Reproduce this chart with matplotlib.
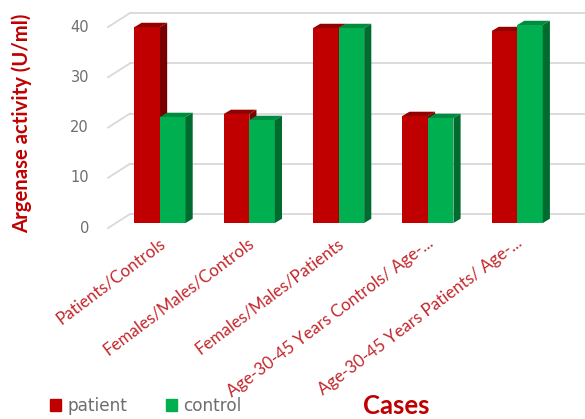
import matplotlib
matplotlib.use('Agg')
import matplotlib.pyplot as plt
from matplotlib.patches import Polygon, Patch
import numpy as np

# chart data
categories = ['Patients/Controls', 'Females/Males/Controls', 'Females/Males/Patients',
              'Age-30-45 Years Controls/ Age-...', 'Age-30-45 Years Patients/ Age-...']
patient = [39.0, 21.7, 38.8, 21.3, 38.2]
control = [21.1, 20.5, 38.8, 20.9, 39.4]
yticks = [0, 10, 20, 30, 40]

W, H = 585, 419
fig = plt.figure(figsize=(W/100, H/100), dpi=100)
ax = fig.add_axes([0, 0, 1, 1])
# category units / value units mapped onto the whole figure
ax.set_xlim(-1.792, 4.759)
ax.set_ylim(-39.0, 44.38)
ax.axis('off')

red_front, red_top, red_side = '#C00000', '#930000', '#780000'
grn_front, grn_top, grn_side = '#00B050', '#008C3E', '#006B2E'

bw = 0.286      # bar width
ddx = 0.08      # depth offset (x)
ddy = 0.85      # depth offset (y)

# gridlines: short slanted piece on the side wall + line on the back wall
for v in yticks:
    ax.plot([-0.582, -0.336], [v - 1.0, v + 1.79], color='#D9D9D9', lw=1.3, zorder=1)
    ax.plot([-0.336, 4.76], [v + 1.79, v + 1.79], color='#D9D9D9', lw=1.3, zorder=1)
    ax.text(-0.795, v - 1.0, str(v), ha='right', va='center', color='#6E6E6E',
            fontsize=10.5, family='DejaVu Sans')

def bar3d(x0, h, front, top, side, z):
    ax.bar(x0, h, width=bw, align='edge', color=front, zorder=z)
    ax.add_patch(Polygon([(x0, h), (x0 + ddx, h + ddy), (x0 + bw + ddx, h + ddy), (x0 + bw, h)],
                         closed=True, facecolor=top, edgecolor='none', zorder=z))
    ax.add_patch(Polygon([(x0 + bw, 0), (x0 + bw + ddx, ddy), (x0 + bw + ddx, h + ddy), (x0 + bw, h)],
                         closed=True, facecolor=side, edgecolor='none', zorder=z))

x = np.arange(len(categories))
for i in x:
    bar3d(i - bw, patient[i], red_front, red_top, red_side, 3)
    bar3d(i, control[i], grn_front, grn_top, grn_side, 4)

# category labels
for i, lab in enumerate(categories):
    ax.text(i + 0.07, -4.4, lab, rotation=37, rotation_mode='anchor',
            ha='right', va='baseline', color='#C4262B', fontsize=12.2, family='Lato')

fig.text(22/W, 1 - 123/H, 'Argenase activity (U/ml)', rotation=90, ha='center', va='center',
         color='#C00000', fontsize=14.6, fontweight='bold', family='Lato')
fig.text(396/W, 1 - 406/H, 'Cases', ha='center', va='center',
         color='#C00000', fontsize=18.5, fontweight='bold', family='Lato')

handles = [Patch(color=red_front, label='patient'), Patch(color=grn_front, label='control')]
leg = fig.legend(handles=handles, loc='center left', bbox_to_anchor=(35/W, 1 - 406/H), ncol=2,
                 frameon=False, handlelength=0.65, handleheight=0.65, handletextpad=0.35,
                 columnspacing=2.3, prop={'family': 'DejaVu Sans', 'size': 12.2})
for t in leg.get_texts():
    t.set_color('#6E6E6E')

fig.savefig('out.png', dpi=100)
